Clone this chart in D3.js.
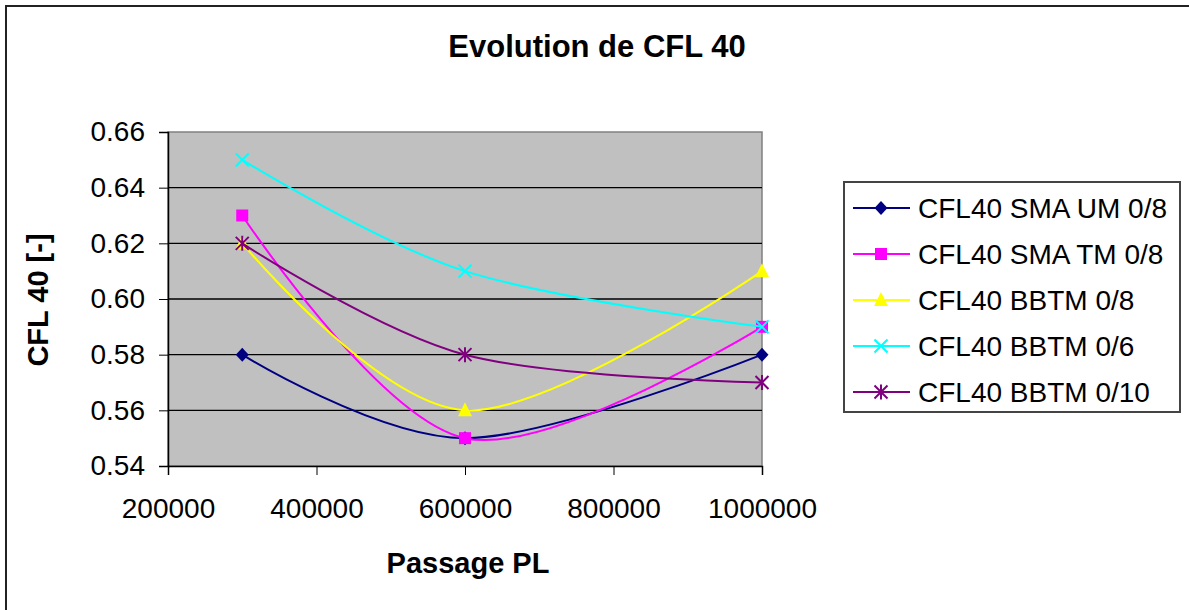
<!DOCTYPE html>
<html>
<head>
<meta charset="utf-8">
<script src="https://cdn.jsdelivr.net/npm/d3@7"></script>
<style>
  body { margin: 0; background: #fff; }
  svg { display: block; font-family: Arial, "Liberation Sans", sans-serif; }
  .ejes path, .ejes line { stroke: #000; }
  .ejes text { font-size: 28px; fill: #000; }
</style>
</head>
<body>
<div id="graf"></div>
<script>
// donnees
const passages = [300000, 600000, 1000000]
const series = ['CFL40 SMA UM 0/8', 'CFL40 SMA TM 0/8', 'CFL40 BBTM 0/8', 'CFL40 BBTM 0/6', 'CFL40 BBTM 0/10']
const smaUM = [0.58, 0.55, 0.58]
const smaTM = [0.63, 0.55, 0.59]
const bbtm08 = [0.62, 0.56, 0.61]
const bbtm06 = [0.65, 0.61, 0.59]
const bbtm010 = [0.62, 0.58, 0.57]
const xTicks = [200000, 400000, 600000, 800000, 1000000]
const yTicks = [0.54, 0.56, 0.58, 0.60, 0.62, 0.64, 0.66]

const valeurs = [smaUM, smaTM, bbtm08, bbtm06, bbtm010]
const couleurs = ['#000080', '#FF00FF', '#FFFF00', '#00FFFF', '#800080']
const symboles = ['diamond', 'square', 'triangle', 'cross', 'star']

const anchoTotal = 1189
const altoTotal = 610
const margin = { top: 132, left: 168, right: 427, bottom: 144 }
const ancho = anchoTotal - margin.left - margin.right
const alto = altoTotal - margin.top - margin.bottom

const svg = d3.select('#graf').append('svg')
  .attr('width', anchoTotal)
  .attr('height', altoTotal)

// cadre du graphique
svg.append('rect')
  .attr('x', 6).attr('y', 6)
  .attr('width', anchoTotal + 20).attr('height', altoTotal + 20)
  .attr('fill', 'none').attr('stroke', '#222').attr('stroke-width', 2)

const g = svg.append('g')
  .attr('transform', `translate(${margin.left}, ${margin.top})`)

const x = d3.scaleLinear().domain([200000, 1000000]).range([0, ancho])
const y = d3.scaleLinear().domain([0.54, 0.66]).range([alto, 0])

g.append('rect')
  .attr('width', ancho).attr('height', alto)
  .attr('fill', '#C0C0C0').attr('stroke', '#808080').attr('stroke-width', 1.5)

// grille
g.append('g')
  .selectAll('line')
  .data(yTicks.slice(1, -1))
  .join('line')
  .attr('x1', 0).attr('x2', ancho)
  .attr('y1', d => y(d)).attr('y2', d => y(d))
  .attr('stroke', '#000').attr('stroke-width', 1.3)

g.append('g')
  .attr('class', 'ejes')
  .attr('transform', `translate(0, ${alto})`)
  .call(d3.axisBottom(x).tickValues(xTicks).tickSize(9).tickPadding(23).tickFormat(d3.format('d')))
  .call(s => s.select('.domain').attr('stroke-width', 1.5))

g.append('g')
  .attr('class', 'ejes')
  .call(d3.axisLeft(y).tickValues(yTicks).tickSize(9).tickPadding(14).tickFormat(d3.format('.2f')))
  .call(s => s.select('.domain').attr('stroke-width', 1.5))

function marqueur(sel, type, couleur) {
  if (type === 'diamond') {
    sel.append('path').attr('d', 'M0,-7L6.5,0L0,7L-6.5,0Z').attr('fill', couleur)
  } else if (type === 'square') {
    sel.append('rect').attr('x', -6).attr('y', -6).attr('width', 12).attr('height', 12).attr('fill', couleur)
  } else if (type === 'triangle') {
    sel.append('path').attr('d', 'M0,-8L7,6L-7,6Z').attr('fill', couleur)
  } else if (type === 'cross') {
    sel.append('path').attr('d', 'M-6.5,-6.5L6.5,6.5M-6.5,6.5L6.5,-6.5')
      .attr('stroke', couleur).attr('stroke-width', 2).attr('fill', 'none')
  } else {
    sel.append('path').attr('d', 'M-6.5,-6.5L6.5,6.5M-6.5,6.5L6.5,-6.5M0,-7.5L0,7.5')
      .attr('stroke', couleur).attr('stroke-width', 2).attr('fill', 'none')
  }
}

const ligne = d3.line()
  .x(d => x(d[0]))
  .y(d => y(d[1]))
  .curve(d3.curveCardinal.tension(0))

valeurs.forEach((vals, i) => {
  const pts = passages.map((p, j) => [p, vals[j]])
  g.append('path')
    .datum(pts)
    .attr('d', ligne)
    .attr('fill', 'none')
    .attr('stroke', couleurs[i])
    .attr('stroke-width', 2)
  pts.forEach(p => {
    const m = g.append('g').attr('transform', `translate(${x(p[0])}, ${y(p[1])})`)
    marqueur(m, symboles[i], couleurs[i])
  })
})

// titres
svg.append('text')
  .attr('x', 597).attr('y', 57)
  .attr('text-anchor', 'middle')
  .attr('font-size', 31).attr('font-weight', 'bold')
  .text('Evolution de CFL 40')

svg.append('text')
  .attr('x', 468).attr('y', 573)
  .attr('text-anchor', 'middle')
  .attr('font-size', 29).attr('font-weight', 'bold')
  .text('Passage PL')

svg.append('text')
  .attr('transform', 'translate(48, 300) rotate(-90)')
  .attr('text-anchor', 'middle')
  .attr('font-size', 29).attr('font-weight', 'bold')
  .text('CFL 40 [-]')

// legende
const leg = svg.append('g').attr('transform', 'translate(844, 182)')
leg.append('rect')
  .attr('width', 336).attr('height', 230)
  .attr('fill', '#fff').attr('stroke', '#444').attr('stroke-width', 2)

series.forEach((nom, i) => {
  const it = leg.append('g').attr('transform', `translate(0, ${26 + i * 46})`)
  it.append('line').attr('x1', 9).attr('x2', 66)
    .attr('stroke', couleurs[i]).attr('stroke-width', 2)
  const m = it.append('g').attr('transform', 'translate(37, 0)')
  marqueur(m, symboles[i], couleurs[i])
  it.append('text')
    .attr('x', 74).attr('y', 10)
    .attr('font-size', 28)
    .text(nom)
})
</script>
</body>
</html>
